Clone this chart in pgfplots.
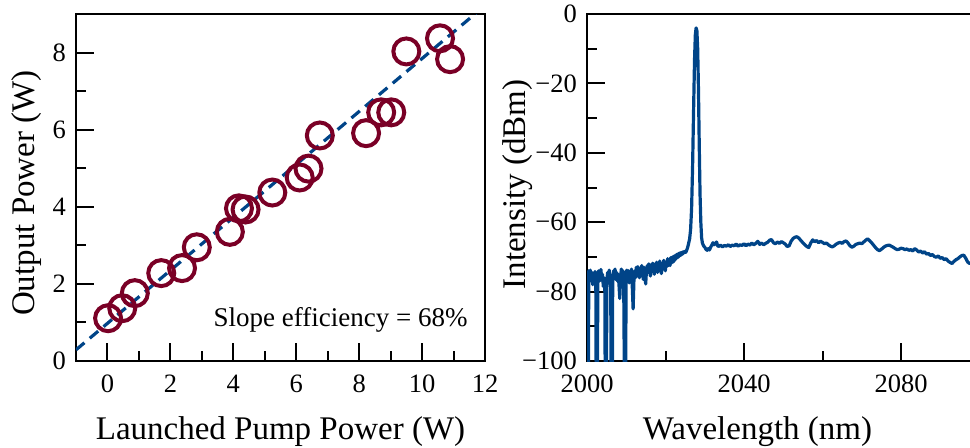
\documentclass[border=0pt]{standalone}
\usepackage{fontspec}
\setmainfont{Liberation Serif}
\usepackage{pgfplots}
\usepackage{pgfplotstable}
\pgfplotsset{compat=1.18}

\definecolor{maroon}{RGB}{122,0,38}
\definecolor{tolblue}{RGB}{0,68,136}

% launched pump power (W), output power (W)
\pgfplotstableread{
x      y
0.02   1.11
0.47   1.37
0.87   1.76
1.71   2.28
2.37   2.41
2.84   2.95
3.89   3.35
4.18   3.96
4.39   3.93
5.24   4.37
6.11   4.76
6.39   4.99
6.75   5.85
8.22   5.91
8.70   6.45
9.02   6.45
9.50   8.03
10.57  8.37
10.89  7.83
}\powerdata

% wavelength (nm), intensity (dBm)
\pgfplotstableread{
wl       dbm
2000.00 -75.5
2000.10 -78
2000.20 -110
2000.35 -110
2000.45 -74
2000.65 -77
2000.85 -73.8
2001.05 -76.5
2001.25 -74.5
2001.45 -78
2001.65 -75
2001.85 -77.5
2002.05 -74.2
2002.25 -79
2002.35 -110
2002.65 -110
2002.75 -76
2002.95 -74
2003.15 -77
2003.35 -74.8
2003.55 -73.6
2003.75 -76.8
2003.95 -75
2004.15 -78.5
2004.35 -76
2004.55 -80
2004.65 -110
2004.95 -110
2005.05 -77
2005.25 -74.5
2005.45 -76.5
2005.65 -73.8
2005.85 -77
2006.05 -79
2006.15 -110
2006.45 -110
2006.55 -76
2006.75 -74
2006.95 -75.5
2007.15 -73.5
2007.35 -76.5
2007.55 -74.5
2007.75 -77
2007.95 -75
2008.15 -78
2008.35 -82
2008.55 -76
2008.75 -73.5
2008.95 -75.5
2009.15 -74
2009.35 -77
2009.55 -110
2009.85 -110
2009.95 -75
2010.15 -73.8
2010.35 -76
2010.55 -74
2010.75 -77.5
2010.95 -74.5
2011.15 -76
2011.35 -73.5
2011.55 -79
2011.75 -85
2011.95 -77
2012.15 -74
2012.35 -76
2012.55 -73
2012.75 -75.5
2012.95 -72.8
2013.15 -74.5
2013.35 -76
2013.55 -73.2
2013.75 -75
2013.95 -72.5
2014.15 -74.2
2014.35 -76.5
2014.55 -73
2014.75 -75
2014.95 -77.8
2015.15 -74
2015.35 -72.5
2015.55 -74.5
2015.75 -72
2015.95 -73.8
2016.15 -75.5
2016.35 -72.2
2016.55 -74
2016.75 -71.8
2016.95 -73.5
2017.15 -75
2017.35 -72
2017.55 -73.5
2017.75 -71.5
2017.95 -74.5
2018.15 -72.5
2018.35 -74
2018.55 -71.2
2018.75 -73
2018.95 -74.8
2019.15 -72
2019.35 -73.5
2019.55 -71
2019.75 -72.8
2019.95 -74
2020.15 -71.5
2020.35 -72.8
2020.55 -70.5
2020.75 -72.5
2020.95 -71
2021.15 -72.5
2021.35 -70.2
2021.55 -71.8
2021.75 -70
2021.95 -71.5
2022.15 -69.8
2022.35 -71
2022.55 -69.5
2022.75 -70.5
2022.95 -69.2
2023.15 -70.2
2023.35 -69
2023.55 -69.8
2023.75 -68.8
2023.95 -69.5
2024.15 -68.7
2024.35 -69.2
2024.55 -68.5
2024.75 -68.8
2024.95 -68.4
2025.15 -68.7
2025.35 -68.2
2025.55 -67.6
2025.75 -66.8
2025.95 -65.8
2026.15 -64.8
2026.40 -62
2026.65 -56
2026.90 -44
2027.15 -28
2027.40 -13
2027.60 -6
2027.80 -4
2028.00 -4.8
2028.20 -10
2028.40 -22
2028.60 -38
2028.80 -52
2029.00 -60
2029.20 -64.5
2029.40 -66
2029.70 -66.8
2030.00 -67.2
2030.30 -67.8
2030.60 -68.1
2030.90 -67.6
2031.20 -68
2031.50 -67.2
2031.80 -66.6
2032.10 -65.9
2032.40 -66.5
2032.70 -66.2
2033.00 -65.7
2033.30 -66.8
2033.5 -67.0
2034.0 -66.6
2034.5 -67.1
2035.0 -66.7
2035.5 -66.9
2036.0 -66.5
2036.5 -67.0
2037.0 -66.6
2037.5 -66.8
2038.0 -66.3
2038.5 -66.9
2039.0 -66.5
2039.5 -66.7
2040.0 -66.2
2040.5 -66.8
2041.0 -66.3
2041.5 -66.6
2042.0 -66.0
2042.5 -66.5
2043.0 -66.1
2043.5 -65.5
2044.0 -66.4
2044.5 -66.0
2045.0 -66.5
2045.5 -66.1
2046.0 -65.8
2046.5 -65.2
2047.0 -65.0
2047.5 -65.9
2048.0 -66.2
2048.5 -65.7
2049.0 -66.1
2049.5 -65.6
2050.0 -65.9
2050.5 -66.3
2051.0 -67.0
2051.5 -66.8
2052.0 -65.5
2052.5 -64.7
2053.0 -64.3
2053.5 -64.2
2054.0 -64.6
2054.5 -65.3
2055.0 -65.9
2055.5 -66.5
2056.0 -67.0
2056.5 -67.3
2057.0 -66.0
2057.5 -65.1
2058.0 -65.6
2058.5 -65.3
2059.0 -65.9
2059.5 -65.5
2060.0 -65.8
2060.5 -66.2
2061.0 -66.0
2061.5 -66.5
2062.0 -66.9
2062.5 -67.1
2063.0 -66.8
2063.5 -66.3
2064.0 -66.0
2064.5 -65.8
2065.0 -66.1
2065.5 -65.6
2066.0 -65.4
2066.5 -66.0
2067.0 -66.8
2067.5 -67.2
2068.0 -66.9
2068.5 -66.4
2069.0 -66.2
2069.5 -66.0
2070.0 -66.2
2070.5 -65.7
2071.0 -65.2
2071.5 -64.8
2072.0 -65.3
2072.5 -65.9
2073.0 -66.6
2073.5 -67.3
2074.0 -67.9
2074.5 -68.2
2075.0 -67.8
2075.5 -67.3
2076.0 -66.9
2076.5 -66.7
2077.0 -66.6
2077.5 -66.9
2078.0 -67.2
2078.5 -67.6
2079.0 -67.9
2079.5 -67.8
2080.0 -67.5
2080.5 -67.6
2081.0 -67.9
2081.5 -67.7
2082.0 -68.1
2082.5 -67.9
2083.0 -68.3
2083.5 -67.6
2084.0 -68.0
2084.5 -68.6
2085.0 -68.3
2085.5 -68.9
2086.0 -68.5
2086.5 -69.2
2087.0 -69.0
2087.5 -69.6
2088.0 -69.3
2088.5 -69.9
2089.0 -70.1
2089.5 -69.7
2090.0 -70.4
2090.5 -70.2
2091.0 -70.8
2091.5 -70.5
2092.0 -71.2
2092.5 -71.6
2093.0 -71.9
2093.5 -71.3
2094.0 -70.8
2094.5 -70.5
2095.0 -70.0
2095.5 -69.6
2096.0 -69.5
2096.5 -70.4
2097.0 -71.5
2097.5 -71.9
2098.0 -71.6
2099.0 -71.8
2100.0 -72.0
}\spectrum

\pgfplotsset{
  panel/.style={
    scale only axis,
    anchor=south west,
    height=173.5pt,
    axis line style={line width=1pt},
    tick style={line width=1pt, black},
    major tick length=9pt,
    minor tick length=5pt,
    xtick pos=left, ytick pos=left,
    tick label style={font=\fontsize{13.25}{15}\selectfont},
    label style={font=\fontsize{16.5}{19}\selectfont},
    xticklabel style={yshift=-3.5pt},
    yticklabel style={xshift=-1.5pt},
  }
}

\begin{document}
\begin{tikzpicture}
\begin{axis}[panel,
    at={(38pt,43pt)},
    width=204.5pt,
    xmin=-1, xmax=12, ymin=0, ymax=9,
    xtick={0,2,4,6,8,10,12},
    xticklabels={0,2,4,6,8,10,12},
    minor xtick={1,3,5,7,9,11},
    ytick={0,2,4,6,8},
    yticklabels={0,2,4,6,8},
    minor ytick={1,3,5,7},
    xlabel={Launched Pump Power (W)},
    ylabel={Output Power (W)},
    xlabel style={at={(axis description cs:0.5,-0.2248)}, anchor=base},
    ylabel style={at={(axis description cs:-0.1198,0.484)}, anchor=center},
]
\addplot[only marks, mark=o, mark size=6.5pt, mark options={line width=2pt, draw=maroon}]
  table[x=x, y=y] {\powerdata};
\addplot[tolblue, line width=1.6pt, dash pattern=on 5.5pt off 3.5pt]
  coordinates {(-1,0.29) (12,9.22)};
\node[anchor=base west, font=\fontsize{13.5}{16}\selectfont] at (axis cs:3.15,0.89)
  {Slope efficiency = 68\%};
\end{axis}

\begin{axis}[panel,
    at={(293.5pt,43pt)},
    width=196.25pt,
    xmin=2000, xmax=2100, ymin=-100, ymax=0,
    xtick={2000,2040,2080},
    xticklabels={2000,2040,2080},
    minor xtick={2020,2060,2100},
    ytick={-100,-80,-60,-40,-20,0},
    yticklabels={−100,−80,−60,−40,−20,0},
    minor ytick={-90,-70,-50,-30,-10},
    xlabel={Wavelength (nm)},
    ylabel={Intensity (dBm)},
    xlabel style={at={(axis description cs:0.4344,-0.2248)}, anchor=base},
    ylabel style={at={(axis description cs:-0.178,0.509)}, anchor=center},
]
\addplot[tolblue, line width=1.6pt, line join=round] table[x=wl, y=dbm] {\spectrum};
\end{axis}
\pgfresetboundingbox
\path[use as bounding box] (0,0) rectangle (485pt,223.5pt);
\end{tikzpicture}
\end{document}
